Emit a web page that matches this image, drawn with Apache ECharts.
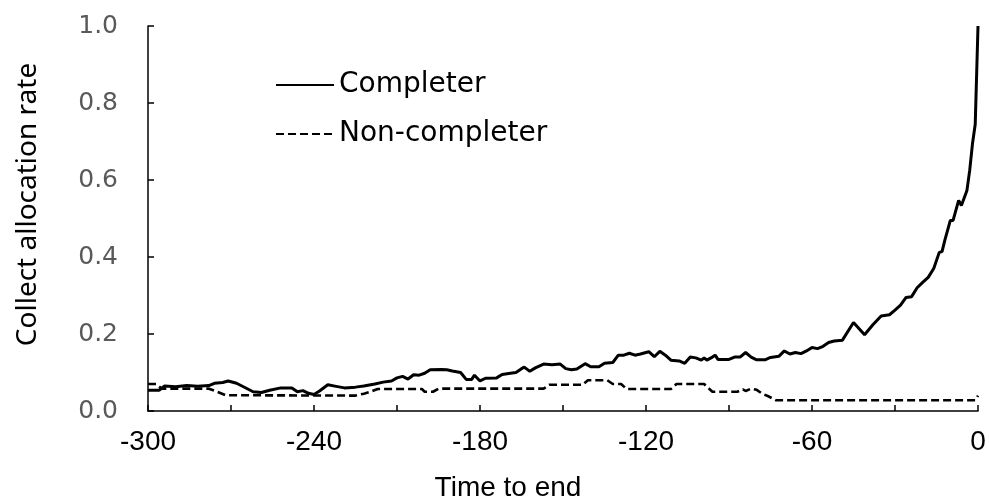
<!DOCTYPE html>
<html>
<head>
<meta charset="utf-8">
<script src="https://cdn.jsdelivr.net/npm/echarts@6/dist/echarts.min.js"></script>
<style>
    html, body { margin: 0; padding: 0; background: #fff; }
    #chart { width: 989px; height: 501px; }
</style>
</head>
<body>
<div id="chart"></div>
<script>
    // time to end (x) and rate (y)
    var completerTime = [-300, -296, -294, -290, -286, -282, -278, -276, -273, -271, -268, -265, -262, -259, -256, -252, -248, -246, -244, -242,
        -240, -238, -235, -232, -229, -225, -222, -218, -215, -212, -210, -208, -206, -204, -202, -200, -198, -194, -192, -190,
        -187, -185, -183, -182, -180, -178, -174, -172, -169, -167, -165, -164, -162, -160, -157, -154, -151, -149, -147, -145,
        -142, -140, -137, -135, -132, -130, -128, -126, -124, -122, -119, -117, -115, -113, -111, -108, -106, -104, -102, -100,
        -99, -98, -96, -95, -94, -90, -88, -86, -84, -82, -80, -77, -75, -72, -70, -68, -66, -64, -62, -60,
        -58, -56, -54, -52, -49, -45, -41, -38, -35, -32, -30, -28, -26, -24, -22, -20, -18, -16, -14, -13,
        -12, -10, -9, -7, -6, -4, -3, -2, -1, 0];
    var completerRate = [0.054, 0.054, 0.065, 0.063, 0.066, 0.064, 0.066, 0.072, 0.074, 0.078, 0.072, 0.061, 0.05, 0.048, 0.054, 0.06, 0.06, 0.05, 0.053, 0.046,
        0.043, 0.052, 0.068, 0.064, 0.06, 0.062, 0.065, 0.07, 0.075, 0.078, 0.086, 0.09, 0.083, 0.094, 0.093, 0.098, 0.107, 0.108, 0.107, 0.104,
        0.1, 0.082, 0.082, 0.093, 0.078, 0.085, 0.086, 0.095, 0.098, 0.1, 0.11, 0.114, 0.103, 0.112, 0.122, 0.12, 0.122, 0.11, 0.107, 0.109,
        0.123, 0.115, 0.115, 0.124, 0.126, 0.145, 0.145, 0.15, 0.145, 0.148, 0.154, 0.141, 0.155, 0.145, 0.132, 0.13, 0.124, 0.14, 0.138, 0.132,
        0.138, 0.132, 0.14, 0.145, 0.134, 0.134, 0.14, 0.14, 0.152, 0.14, 0.133, 0.133, 0.139, 0.142, 0.156, 0.148, 0.152, 0.149, 0.156, 0.165,
        0.162, 0.168, 0.178, 0.182, 0.184, 0.23, 0.198, 0.224, 0.247, 0.25, 0.262, 0.275, 0.295, 0.297, 0.32, 0.334, 0.347, 0.37, 0.412, 0.414,
        0.443, 0.495, 0.495, 0.547, 0.534, 0.573, 0.625, 0.694, 0.745, 1.0];

    var nonCompleterTime = [-300, -297, -295, -278, -275, -272, -225, -222, -220, -217, -201, -200, -197, -195, -157, -155, -143, -141, -134, -132,
        -129, -127, -111, -109, -99, -96, -87, -85, -84, -82, -80, -78, -76, -73, -1, 0];
    var nonCompleterRate = [0.07, 0.07, 0.058, 0.058, 0.05, 0.041, 0.04, 0.045, 0.049, 0.057, 0.057, 0.05, 0.05, 0.058, 0.058, 0.068, 0.068, 0.08, 0.08, 0.07,
        0.07, 0.057, 0.057, 0.07, 0.07, 0.05, 0.05, 0.056, 0.052, 0.058, 0.055, 0.045, 0.039, 0.028, 0.028, 0.04];

    var seriesNames = ['Completer', 'Non-completer'];

    function pairs(xs, ys) {
        var out = [];
        for (let i = 0; i < xs.length; i++) {
            out.push([xs[i], ys[i]]);
        }
        return out;
    }

    var chart = echarts.init(document.getElementById('chart'));
    var option = {
        animation: false,
        backgroundColor: '#fff',
        grid: {
            left: 148,
            right: 11,
            top: 26,
            bottom: 90,
            containLabel: false,
            outerBoundsMode: 'none'
        },
        legend: {
            orient: 'vertical',
            left: 270,
            top: 66,
            itemWidth: 58,
            itemHeight: 14,
            itemGap: 21,
            data: seriesNames,
            itemStyle: { opacity: 0 },
            textStyle: {
                fontFamily: 'DejaVu Sans',
                fontSize: 28,
                color: '#000'
            }
        },
        xAxis: {
            type: 'value',
            min: -300,
            max: 0,
            interval: 30,
            name: 'Time to end',
            nameLocation: 'middle',
            nameGap: 63,
            nameTextStyle: {
                fontFamily: 'Liberation Sans Narrow, Liberation Sans',
                fontSize: 28,
                color: '#000',
                padding: [0, 110, 0, 0]
            },
            axisLine: { onZero: false, lineStyle: { color: '#000', width: 1.5 } },
            axisTick: { inside: true, length: 6, lineStyle: { color: '#000', width: 1.5 } },
            axisLabel: {
                margin: 17,
                fontFamily: 'Liberation Sans Narrow, Liberation Sans',
                fontSize: 28,
                color: '#000',
                formatter: function (v) {
                    return v % 60 === 0 ? String(v) : '';
                }
            },
            splitLine: { show: false }
        },
        yAxis: {
            type: 'value',
            min: 0,
            max: 1,
            interval: 0.2,
            name: 'Collect allocation rate',
            nameLocation: 'middle',
            nameGap: 106,
            nameTextStyle: {
                fontFamily: 'Noto Sans',
                fontSize: 28,
                color: '#000',
                padding: [0, 0, 0, 28]
            },
            axisLine: { show: true, onZero: false, lineStyle: { color: '#000', width: 1.5 } },
            axisTick: { show: true, inside: true, length: 6, lineStyle: { color: '#000', width: 1.5 } },
            axisLabel: {
                margin: 30,
                fontFamily: 'DejaVu Sans',
                fontSize: 25,
                color: '#595959',
                formatter: function (v) {
                    return v.toFixed(1);
                }
            },
            splitLine: { show: false }
        },
        series: [
            {
                name: seriesNames[0],
                type: 'line',
                symbol: 'none',
                data: pairs(completerTime, completerRate),
                lineStyle: { color: '#000', width: 3 },
                itemStyle: { color: '#000' }
            },
            {
                name: seriesNames[1],
                type: 'line',
                symbol: 'none',
                data: pairs(nonCompleterTime, nonCompleterRate),
                lineStyle: { color: '#000', width: 2.6, type: [8, 4] },
                itemStyle: { color: '#000' }
            }
        ]
    };
    chart.setOption(option);
</script>
</body>
</html>
